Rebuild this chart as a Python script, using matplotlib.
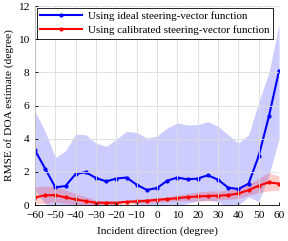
import matplotlib
matplotlib.use("Agg")
import matplotlib.pyplot as plt
import numpy as np

plt.rcParams['font.family'] = ['Liberation Serif', 'DejaVu Serif']
plt.rcParams['mathtext.fontset'] = 'stix'

angles = list(range(-60, 61, 5))

ideal_mean = [3.3, 2.2, 1.07, 1.15, 1.88, 1.98, 1.63, 1.43, 1.6, 1.66, 1.23, 0.91, 1.03,
              1.47, 1.66, 1.55, 1.6, 1.8, 1.53, 1.05, 0.97, 1.29, 2.97, 5.35, 8.1]
ideal_upper = [5.65, 4.44, 2.87, 3.27, 4.28, 4.24, 3.74, 3.54, 3.98, 4.44, 4.38, 4.04, 4.16,
               4.65, 4.95, 4.83, 4.85, 5.03, 4.75, 4.24, 3.74, 4.24, 6.2, 8.0, 10.9]
ideal_lower = [0.9, 0.1, -0.6, -0.5, -0.2, -0.3, -0.4, -0.3, 0.0, 0.35, 0.0, -0.3, -0.2,
               -0.2, -0.1, 0.1, 0.25, 0.3, 0.2, -0.2, 0.0, 0.5, 0.2, 1.8, 4.0]

calib_mean = [0.46, 0.59, 0.6, 0.46, 0.34, 0.24, 0.14, 0.14, 0.14, 0.2, 0.22, 0.26, 0.32,
              0.36, 0.42, 0.48, 0.52, 0.55, 0.57, 0.6, 0.7, 0.9, 1.17, 1.37, 1.29]
calib_upper = [1.1, 1.15, 1.1, 0.9, 0.7, 0.5, 0.3, 0.25, 0.25, 0.3, 0.35, 0.4, 0.45,
               0.5, 0.6, 0.7, 0.8, 0.85, 0.85, 0.9, 1.05, 1.25, 1.6, 1.95, 1.75]
calib_lower = [0.1, 0.1, 0.2, 0.1, 0.05, 0.0, 0.0, 0.0, 0.0, 0.05, 0.1, 0.1, 0.15,
               0.2, 0.25, 0.25, 0.25, 0.25, 0.3, 0.35, 0.4, 0.6, 0.75, 0.85, 0.9]

fig = plt.figure(figsize=(2.88, 2.41), dpi=100)
ax = fig.add_axes([0.1215, 0.149, 0.8475, 0.826])

ax.fill_between(angles, ideal_lower, ideal_upper, color=(0, 0, 1), alpha=0.2, linewidth=0)
ax.fill_between(angles, calib_lower, calib_upper, color=(1, 0, 0), alpha=0.2, linewidth=0)
ax.plot(angles, ideal_mean, color=(0, 0, 1), lw=1.5, marker='.', ms=4,
        label='Using ideal steering-vector function')
ax.plot(angles, calib_mean, color=(1, 0, 0), lw=1.5, marker='.', ms=4,
        label='Using calibrated steering-vector function')

ax.set_xlim(-60, 60)
ax.set_ylim(0, 12)
ax.set_xticks(range(-60, 61, 10))
ax.set_yticks(range(0, 13, 2))
ax.grid(True, color='#dcdcdc', lw=0.6)
ax.set_axisbelow(False)
for s in ['top', 'right']:
    ax.spines[s].set_visible(False)
for s in ['left', 'bottom']:
    ax.spines[s].set_linewidth(0.6)
ax.tick_params(direction='in', length=2.5, width=0.6, labelsize=8.2)
ax.tick_params(axis='x', pad=4)
ax.tick_params(axis='y', pad=4)
ax.set_xlabel('Incident direction (degree)', fontsize=8.2, labelpad=5)
ax.set_ylabel('RMSE of DOA estimate (degree)', fontsize=8.2, labelpad=3)

leg = ax.legend(loc='upper left', fontsize=7.9, frameon=True, fancybox=False,
                edgecolor='black', framealpha=1, borderpad=0.35, handlelength=3.8,
                labelspacing=0.35, borderaxespad=0.15, handletextpad=0.5)
leg.get_frame().set_linewidth(0.6)

fig.savefig('out.png', dpi=100)
